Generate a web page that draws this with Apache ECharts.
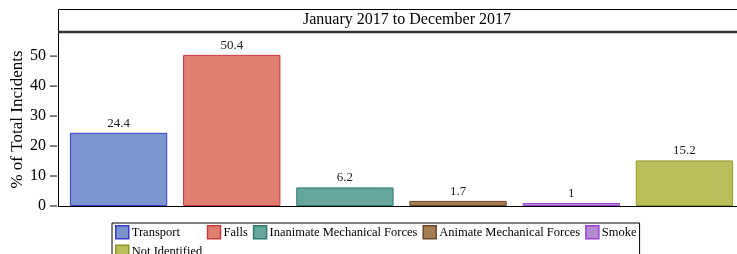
<!DOCTYPE html>
<html>
<head>
<meta charset="utf-8">
<script src="https://cdn.jsdelivr.net/npm/echarts@6/dist/echarts.min.js"></script>
<style>
  html, body { margin: 0; padding: 0; background: #fff; }
  #main { width: 737px; height: 254px; }
</style>
</head>
<body>
<div id="main"></div>
<script>
  var categories = ['Transport', 'Falls', 'Inanimate Mechanical Forces', 'Animate Mechanical Forces', 'Smoke', 'Not Identified'];
  var values = [24.4, 50.4, 6.2, 1.7, 1, 15.2];
  var fills = ['#7b96cf', '#df7f6f', '#66a69d', '#a67d52', '#b78ad6', '#bbbd5b'];
  var borders = ['#3a3acc', '#c83c40', '#2c7a70', '#6b4a2a', '#9b45d0', '#8e9a25'];
  var yTicks = [0, 10, 20, 30, 40, 50];
  var periodTitle = 'January 2017 to December 2017';

  var font = '"Liberation Serif", "Times New Roman", serif';

  var series = categories.map(function (name, i) {
    return {
      name: name,
      type: 'bar',
      stack: 'all',
      barCategoryGap: '14%',
      data: categories.map(function (c, j) { return j === i ? values[i] : '-'; }),
      itemStyle: { color: fills[i], borderColor: borders[i], borderWidth: 1 },
      label: {
        show: true,
        position: 'top',
        distance: 3,
        color: '#222',
        fontFamily: font,
        fontSize: 13
      }
    };
  });

  var myChart = echarts.init(document.getElementById('main'));
  myChart.setOption({
    animation: false,
    textStyle: { fontFamily: font },
    title: {
      text: periodTitle,
      left: 407,
      textAlign: 'center',
      top: 12,
      padding: 0,
      textStyle: { fontFamily: font, fontSize: 16, fontWeight: 'normal', color: '#000' }
    },
    graphic: [
      {
        type: 'rect',
        shape: { x: 58.5, y: 9.5, width: 700, height: 22 },
        style: { fill: 'none', stroke: '#000', lineWidth: 1 },
        z: 10
      },
      {
        type: 'line',
        shape: { x1: 58, y1: 32, x2: 737, y2: 32 },
        style: { stroke: '#333', lineWidth: 2.5 },
        z: 10
      },
      {
        type: 'line',
        shape: { x1: 58, y1: 206.5, x2: 63, y2: 206.5 },
        style: { stroke: '#000', lineWidth: 1 },
        z: 10
      }
    ],
    legend: {
      left: 112,
      top: 223,
      width: 530,
      padding: [2, 3, 10, 3],
      borderColor: '#000',
      borderWidth: 1,
      icon: 'rect',
      itemWidth: 13,
      itemHeight: 13,
      itemGap: 5,
      align: 'left',
      data: categories.map(function (c, i) {
        return { name: c, itemStyle: { borderWidth: 1.5, borderColor: borders[i] } };
      }),
      formatter: function (name) {
        return name === categories[0] ? name + '\u00a0\u00a0\u00a0\u00a0\u00a0\u00a0\u00a0' : name;
      },
      textStyle: { fontFamily: font, fontSize: 12.5, color: '#000', padding: [0, 0, 0, -2] }
    },
    grid: { left: 62, right: -4, top: 33, bottom: 48, outerBoundsMode: 'none' },
    xAxis: {
      type: 'category',
      data: categories,
      axisTick: { show: false },
      axisLabel: { show: false },
      axisLine: { lineStyle: { color: '#000', width: 1 } }
    },
    yAxis: {
      type: 'value',
      position: 'left',
      min: 0,
      max: 57.7,
      interval: 10,
      offset: 4,
      name: '% of Total Incidents',
      nameLocation: 'middle',
      nameGap: 32,
      nameMoveOverlap: false,
      nameTextStyle: { fontFamily: font, fontSize: 17, color: '#000' },
      splitLine: { show: false },
      axisLine: { show: true, lineStyle: { color: '#000', width: 1 } },
      axisTick: { show: false },
      axisLabel: {
        show: true,
        margin: 1,
        formatter: function (v) {
          return yTicks.indexOf(v) >= 0 ? '{v|' + v + '}{s|}{t|}' : '';
        },
        rich: {
          v: { fontFamily: font, fontSize: 16, color: '#000' },
          s: { width: 4 },
          t: { width: 7, height: 1, backgroundColor: '#000', verticalAlign: 'middle' }
        }
      }
    },
    series: series
  });
  window.onresize = myChart.resize;
</script>
</body>
</html>
